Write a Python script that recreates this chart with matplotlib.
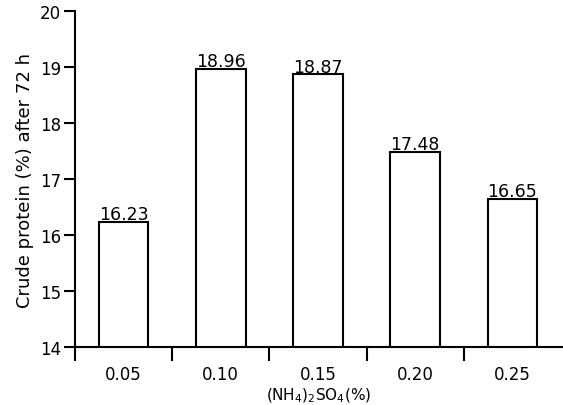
import matplotlib
matplotlib.use("Agg")
import matplotlib.pyplot as plt
import numpy as np

plt.rcParams['font.family'] = ['DejaVu Sans']
plt.rcParams['mathtext.fontset'] = 'dejavusans'

# 데이터
conc_labels = ["0.05", "0.10", "0.15", "0.20", "0.25"]
protein = [16.23, 18.96, 18.87, 17.48, 16.65]

fig = plt.figure(figsize=(5.63, 4.06), dpi=100)
ax = fig.add_axes([0.133, 0.143, 0.867, 0.827])

x = np.arange(len(protein))
ax.bar(x, protein, width=0.51, bottom=0, color='white', edgecolor='black', linewidth=1.5)

for xi, v in zip(x, protein):
    ax.text(xi, v - 0.02, f"{v:.2f}", ha='center', va='bottom', fontsize=12.5)

ax.set_ylim(14, 20)
ax.set_xlim(-0.48, 4.52)
ax.set_yticks(range(14, 21))
ax.tick_params(axis='y', direction='out', length=8, width=1.5, labelsize=12, pad=2)

# 눈금은 막대 사이에, 라벨은 막대 가운데
ax.set_xticks(x - 0.5)
ax.set_xticklabels([])
ax.set_xticks(x, minor=True)
ax.set_xticklabels(conc_labels, minor=True, fontsize=12)
ax.tick_params(axis='x', which='major', direction='out', length=10, width=1.5)
ax.tick_params(axis='x', which='minor', length=0, pad=13)

ax.spines['top'].set_visible(False)
ax.spines['right'].set_visible(False)
ax.spines['left'].set_linewidth(1.5)
ax.spines['bottom'].set_linewidth(1.5)

ax.set_ylabel("Crude protein (%) after 72 h", fontsize=13, labelpad=4)
ax.set_xlabel(r"(NH$_4$)$_2$SO$_4$(%)", fontsize=11, labelpad=2)

fig.savefig("out.png", dpi=100)
